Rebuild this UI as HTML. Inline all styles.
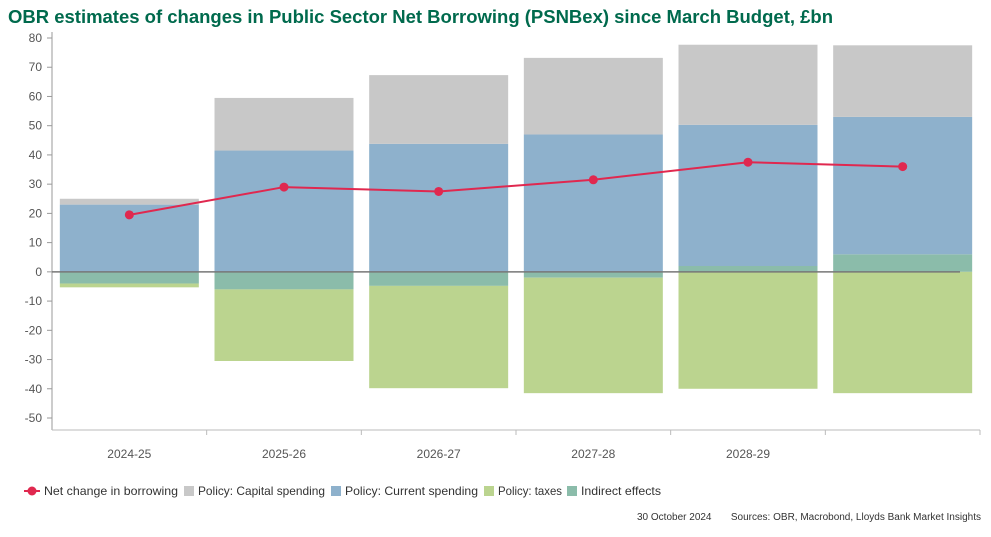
<!DOCTYPE html>
<html><head><meta charset="utf-8">
<style>
body{margin:0;background:#fff;width:991px;height:532px;overflow:hidden;font-family:"Liberation Sans",sans-serif;}
svg text{font-family:"Liberation Sans",sans-serif;}
</style></head>
<body>
<svg id="chart" width="991" height="532">
<text x="8" y="23" font-size="18.5" font-weight="bold" fill="#006a4d" textLength="825">OBR estimates of changes in Public Sector Net Borrowing (PSNBex) since March Budget, £bn</text>
<g id="grid"></g><g id="bars"></g><g id="axes"></g><g id="line"></g>
<g id="legend"></g>
<text x="637" y="520" font-size="10" fill="#333">30 October 2024</text>
<text x="981" y="520" font-size="10" fill="#333" text-anchor="end">Sources: OBR, Macrobond, Lloyds Bank Market Insights</text>
</svg>
<script>
const categories=["2024-25","2025-26","2026-27","2027-28","2028-29",""];
const indirect=[-4,-6,-4.8,-2,2,6];
const taxes=[-1.3,-24.5,-35,-39.5,-40,-41.5];
const current=[23,41.5,43.8,47,48.3,47];
const capital=[2,18,23.5,26.2,27.4,24.5];
const netChange=[19.5,29,27.5,31.5,37.5,36];
const yTicks=[80,70,60,50,40,30,20,10,0,-10,-20,-30,-40,-50];

const NS="http://www.w3.org/2000/svg";
const x0=52,x1=980,yTop=38,yBot=418,vMax=80,vMin=-50;
const y=v=>yTop+(vMax-v)/(vMax-vMin)*(yBot-yTop);
const step=(x1-x0)/categories.length;
const xc=i=>x0+step*(i+0.5);
const bw=139;
function mk(tag,attrs,parent){const e=document.createElementNS(NS,tag);for(const k in attrs)e.setAttribute(k,attrs[k]);parent.appendChild(e);return e;}
const axes=document.getElementById('axes'),bars=document.getElementById('bars'),lineG=document.getElementById('line'),leg=document.getElementById('legend');
let ya=mk('line',{x1:x0,x2:x0,y1:yTop-6,y2:yBot+12,stroke:'#999'},axes);


yTicks.forEach(v=>{
  mk('line',{x1:x0-5,x2:x0,y1:y(v),y2:y(v),stroke:'#999'},axes);
  const t=mk('text',{x:x0-10,y:y(v)+4,'font-size':12,fill:'#555','text-anchor':'end'},axes);
  t.textContent=v;
  
  
});
const xa=mk('line',{x1:x0,x2:x1,y1:yBot+12,y2:yBot+12,stroke:'#bbb'},axes);


categories.forEach((c,i)=>{
  mk('line',{x1:x0+step*(i+1),x2:x0+step*(i+1),y1:yBot+12,y2:yBot+17,stroke:'#bbb'},axes);
  const t=mk('text',{x:xc(i),y:yBot+40,'font-size':12,fill:'#555','text-anchor':'middle'},axes);
  t.textContent=c;
  
  
});
const cols={ind:'#8bbcaa',tax:'#bbd48f',cur:'#8eb1cc',cap:'#c8c8c8'};
function rect(i,a,b,col,name){
  const r=mk('rect',{x:xc(i)-bw/2,y:Math.min(y(a),y(b)),width:bw,height:Math.abs(y(a)-y(b)),fill:col},bars);
  
  
}
categories.forEach((c,i)=>{
  let pos=0,neg=0;
  rect(i,0,indirect[i],cols.ind,'bar-indirect-effects');
  if(indirect[i]>=0)pos=indirect[i];else neg=indirect[i];
  if(taxes[i]<0){rect(i,neg,neg+taxes[i],cols.tax,'bar-policy-taxes');neg+=taxes[i];}
  else{rect(i,pos,pos+taxes[i],cols.tax,'bar-policy-taxes');pos+=taxes[i];}
  rect(i,pos,pos+current[i],cols.cur,'bar-current-spending');pos+=current[i];
  rect(i,pos,pos+capital[i],cols.cap,'bar-capital-spending');
});
const zl=mk('line',{x1:x0,x2:x1-20,y1:y(0),y2:y(0),stroke:'#777','stroke-width':1.5},axes);


const pl=mk('polyline',{points:netChange.map((v,i)=>xc(i)+','+y(v)).join(' '),fill:'none',stroke:'#e0284f','stroke-width':2},lineG);


netChange.forEach((v,i)=>{
  const c=mk('circle',{cx:xc(i),cy:y(v),r:4.5,fill:'#e0284f'},lineG);
  
  
});
const items=[["Net change in borrowing",'line',24,134],["Policy: Capital spending",cols.cap,184,127],["Policy: Current spending",cols.cur,331,133],["Policy: taxes",cols.tax,484,64],["Indirect effects",cols.ind,567,80]];
items.forEach(([label,col,lx,tw])=>{
  const g=mk('g',{},leg);
  
  
  let tx;
  if(col==='line'){
    mk('line',{x1:lx,x2:lx+16,y1:491,y2:491,stroke:'#e0284f','stroke-width':2},g);
    mk('circle',{cx:lx+8,cy:491,r:4.5,fill:'#e0284f'},g);
    tx=lx+20;
  }else{
    mk('rect',{x:lx,y:486,width:10,height:10,fill:col},g);
    tx=lx+14;
  }
  const t=mk('text',{x:tx,y:495,'font-size':12,fill:'#333',textLength:tw,lengthAdjust:'spacingAndGlyphs'},g);t.textContent=label;
});
</script>
</body></html>
